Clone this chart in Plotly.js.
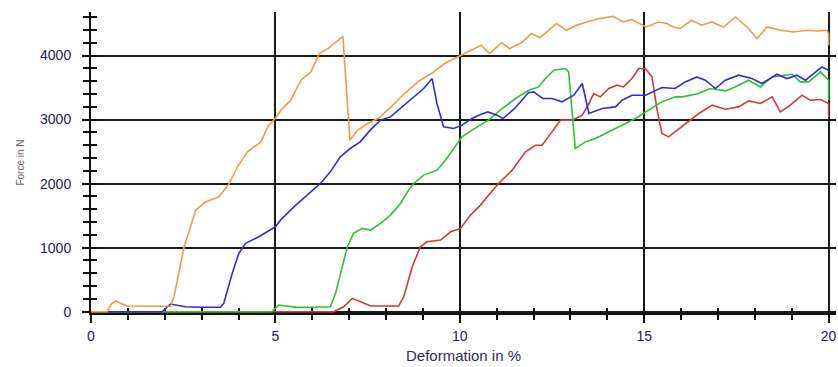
<!DOCTYPE html>
<html>
<head>
<meta charset="utf-8">
<script src="https://cdn.plot.ly/plotly-3.0.1.min.js"></script>
<style>html,body{margin:0;padding:0;background:#fff;}#chart{width:838px;height:367px;}</style>
</head>
<body>
<div id="chart"></div>
<script>
// Deformation (%) and force (N) for four specimens
const orangeX = [0, 0.44, 0.55, 0.67, 0.85, 0.98, 1.5, 2.16, 2.25, 2.52, 2.84, 3.11, 3.47, 3.75, 3.97, 4.24, 4.61, 4.79, 4.99, 5.2, 5.42, 5.69, 5.96, 6.19, 6.42, 6.6, 6.83, 7.02, 7.23, 7.5, 7.78, 8.14, 8.5, 8.86, 9.23, 9.59, 10.02, 10.4, 10.58, 10.81, 11.13, 11.35, 11.67, 11.94, 12.17, 12.49, 12.62, 12.89, 13.17, 13.44, 13.79, 14.16, 14.43, 14.66, 15.05, 15.39, 15.61, 15.79, 15.97, 16.28, 16.56, 16.83, 17.15, 17.47, 17.79, 18.06, 18.33, 18.7, 19.05, 19.42, 19.69, 19.96, 20.0, 20.0];
const orangeY = [0, 0, 120, 167, 120, 89, 85, 85, 234, 1000, 1587, 1716, 1794, 2003, 2262, 2496, 2652, 2886, 3017, 3180, 3303, 3615, 3744, 4031, 4109, 4187, 4301, 2679, 2835, 2939, 3017, 3198, 3407, 3588, 3719, 3875, 4005, 4109, 4160, 4031, 4200, 4109, 4200, 4343, 4278, 4446, 4499, 4395, 4473, 4524, 4577, 4613, 4524, 4561, 4446, 4524, 4499, 4446, 4421, 4551, 4473, 4525, 4446, 4603, 4446, 4265, 4446, 4395, 4369, 4395, 4384, 4395, 4343, 4161];

const blueX = [0, 1.93, 2.15, 2.56, 3.0, 3.51, 3.6, 3.83, 4.01, 4.19, 4.55, 5.0, 5.14, 5.5, 5.86, 6.22, 6.49, 6.76, 7.03, 7.3, 7.57, 7.85, 8.12, 8.39, 8.75, 9.02, 9.25, 9.38, 9.56, 9.83, 10.06, 10.33, 10.56, 10.76, 11.01, 11.17, 11.48, 11.86, 12.0, 12.25, 12.5, 12.77, 13.09, 13.32, 13.5, 13.86, 14.22, 14.4, 14.67, 15.04, 15.48, 15.84, 16.11, 16.43, 16.66, 16.93, 17.2, 17.56, 17.92, 18.19, 18.6, 18.87, 19.14, 19.37, 19.82, 20.0];
const blueY = [0, 0, 120, 78, 70, 70, 131, 599, 911, 1067, 1170, 1326, 1430, 1638, 1820, 2003, 2184, 2418, 2549, 2652, 2835, 2991, 3042, 3173, 3354, 3485, 3641, 3251, 2886, 2861, 2913, 3017, 3080, 3120, 3069, 3017, 3170, 3420, 3433, 3329, 3329, 3277, 3381, 3563, 3095, 3173, 3198, 3303, 3381, 3381, 3500, 3485, 3588, 3666, 3615, 3485, 3615, 3693, 3641, 3563, 3708, 3641, 3693, 3615, 3822, 3770];

const greenX = [0, 4.9, 5.09, 5.3, 5.59, 6.0, 6.49, 6.63, 6.81, 6.95, 7.12, 7.35, 7.58, 7.85, 8.12, 8.39, 8.61, 8.75, 9.02, 9.38, 9.61, 9.83, 10.06, 10.33, 10.56, 10.78, 11.15, 11.51, 11.87, 12.14, 12.32, 12.55, 12.86, 12.95, 13.13, 13.41, 13.68, 14.04, 14.4, 14.76, 15.12, 15.48, 15.84, 16.03, 16.48, 16.79, 17.2, 17.47, 17.83, 18.15, 18.47, 18.83, 19.01, 19.23, 19.46, 19.78, 20.0, 20.0];
const greenY = [0, 0, 104, 90, 68, 70, 78, 287, 702, 1014, 1223, 1301, 1275, 1379, 1509, 1691, 1899, 2003, 2133, 2210, 2366, 2549, 2730, 2835, 2913, 2991, 3173, 3329, 3459, 3510, 3641, 3770, 3797, 3745, 2549, 2652, 2705, 2808, 2913, 3017, 3147, 3277, 3355, 3355, 3407, 3485, 3448, 3510, 3615, 3510, 3666, 3693, 3708, 3589, 3589, 3745, 3615, 3303];

const redX = [0, 6.58, 6.85, 7.08, 7.31, 7.58, 8.34, 8.48, 8.71, 8.93, 9.11, 9.48, 9.75, 10.02, 10.29, 10.56, 10.78, 11.05, 11.42, 11.78, 12.05, 12.23, 12.5, 12.73, 13.04, 13.32, 13.5, 13.63, 13.81, 14.04, 14.26, 14.44, 14.67, 14.85, 15.03, 15.21, 15.35, 15.48, 15.66, 15.84, 16.11, 16.48, 16.84, 17.2, 17.56, 17.83, 18.15, 18.47, 18.69, 18.96, 19.28, 19.5, 19.78, 20.0, 20.0];
const redY = [0, 0, 78, 209, 156, 89, 89, 234, 702, 1014, 1092, 1119, 1248, 1301, 1509, 1665, 1820, 2003, 2210, 2496, 2600, 2600, 2808, 2991, 2991, 3069, 3251, 3407, 3355, 3485, 3537, 3510, 3641, 3797, 3797, 3666, 3147, 2783, 2730, 2808, 2939, 3095, 3225, 3162, 3198, 3292, 3251, 3355, 3120, 3225, 3381, 3303, 3314, 3251, 3042];

const xTickVals = [0, 5, 10, 15, 20];
const yTickVals = [0, 1000, 2000, 3000, 4000];
const xTitle = 'Deformation in %';
const yTitle = 'Force in N';

const lw = 1.6;
const traces = [
  {x: redX, y: redY, mode: 'lines', line: {color: '#d23a3a', width: lw}},
  {x: greenX, y: greenY, mode: 'lines', line: {color: '#2fc22f', width: lw}},
  {x: blueX, y: blueY, mode: 'lines', line: {color: '#2f2fd2', width: lw}},
  {x: orangeX, y: orangeY, mode: 'lines', line: {color: '#f29a48', width: lw}},
  // transparent copy that only makes the overlay tick axes (x2/y2) render
  {x: orangeX, y: orangeY, mode: 'lines', xaxis: 'x2', yaxis: 'y2', line: {color: 'rgba(0,0,0,0)', width: 0}, hoverinfo: 'skip'}
];

const tickFont = {family: 'Liberation Sans, Arial, sans-serif', size: 14, color: '#24244a'};
const XR = [0, 20.2], YR = [-20, 4680];

const layout = {
  width: 838, height: 367,
  margin: {l: 91, r: 2, t: 12, b: 54, pad: 0},
  paper_bgcolor: '#ffffff', plot_bgcolor: '#ffffff',
  showlegend: false,
  xaxis: {
    range: XR, tickmode: 'array', tickvals: xTickVals, ticktext: xTickVals.map(String),
    ticks: 'outside', ticklen: 8, tickwidth: 2, tickcolor: '#111',
    showgrid: true, gridcolor: '#1a1a1a', gridwidth: 2,
    showline: true, linecolor: '#111', linewidth: 2, zeroline: false,
    layer: 'below traces',
    tickfont: tickFont, ticklabelstandoff: 1,
    minor: {dtick: 1, ticks: 'outside', ticklen: 5, tickwidth: 2, tickcolor: '#111', showgrid: false},
    title: {text: xTitle, font: {family: 'Liberation Sans, Arial, sans-serif', size: 15, color: '#30304a'}, standoff: 8}
  },
  yaxis: {
    range: YR, tickmode: 'array', tickvals: yTickVals, ticktext: yTickVals.map(String),
    ticks: 'outside', ticklen: 7, tickwidth: 2, tickcolor: '#111',
    showgrid: true, gridcolor: '#1a1a1a', gridwidth: 2,
    showline: true, linecolor: '#111', linewidth: 2, zeroline: false,
    layer: 'below traces',
    tickfont: tickFont, ticklabelstandoff: 8,
    minor: {tick0: 0, dtick: 200, ticks: 'outside', ticklen: 6, tickwidth: 2, tickcolor: '#111', showgrid: false},
    title: {text: yTitle, font: {family: 'Liberation Sans, Arial, sans-serif', size: 10, color: '#6c6272'}, standoff: 14}
  },
  xaxis2: {
    overlaying: 'x', anchor: 'y2', side: 'bottom', range: XR, layer: 'below traces',
    tickmode: 'linear', tick0: 0, dtick: 1, ticks: 'inside', ticklen: 5, tickwidth: 2, tickcolor: '#111',
    showticklabels: false, showgrid: false, showline: false, zeroline: false
  },
  yaxis2: {
    overlaying: 'y', anchor: 'x2', side: 'left', range: YR, layer: 'below traces',
    tickmode: 'linear', tick0: 0, dtick: 200, ticks: 'inside', ticklen: 6, tickwidth: 2, tickcolor: '#111',
    showticklabels: false, showgrid: false, showline: false, zeroline: false
  }
};

Plotly.newPlot('chart', traces, layout, {displayModeBar: false, staticPlot: true});
</script>
</body>
</html>
